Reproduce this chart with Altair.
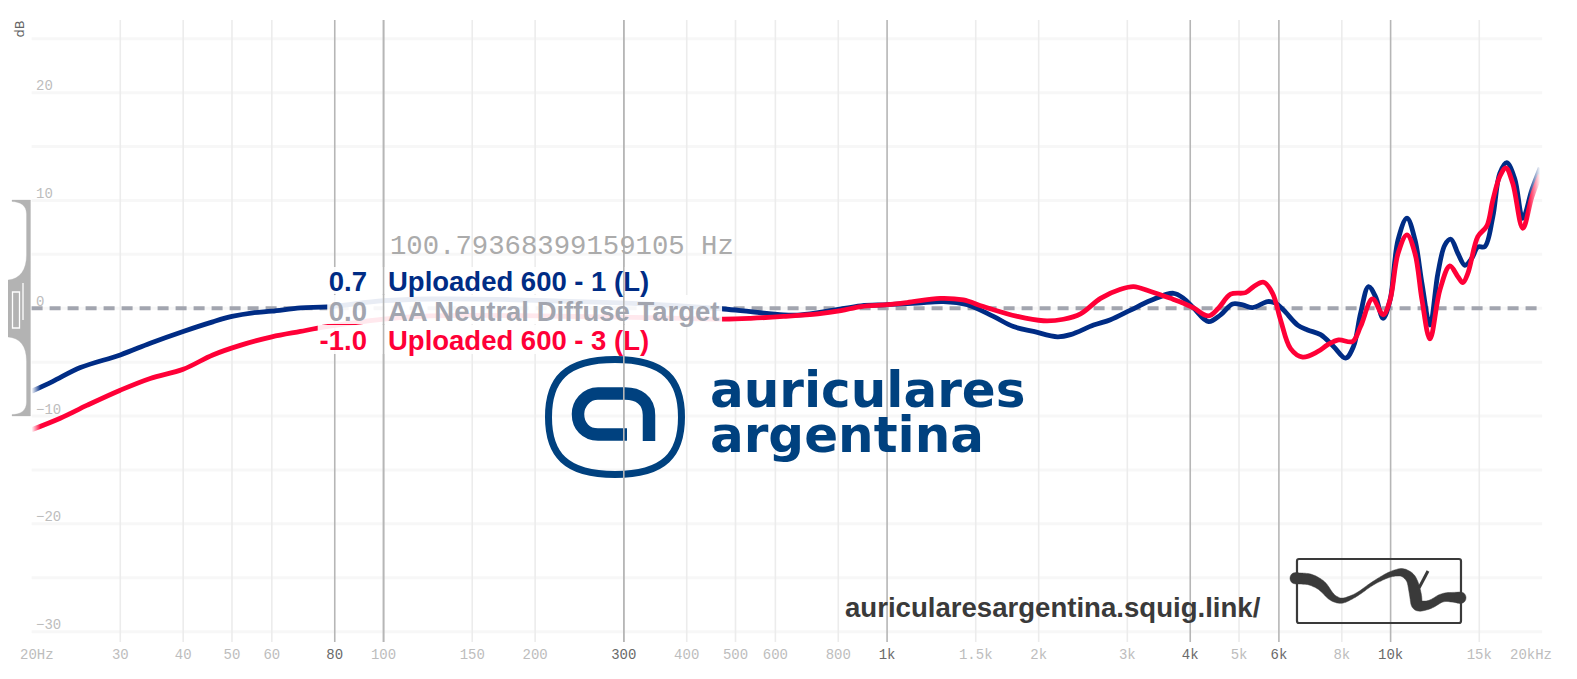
import re
import numpy as np
import pandas as pd
import altair as alt

# ---- readings -------------------------------------------------------------
blue_hz = [20,22,25,30,34.4,40,45.8,50,55,60,68.4,77.3,100,123.5,170.5,224.5,295,389,474,
 536,623,674,784,888,1000,1148,1293,1443,1626,1782,1953,2180,2313,2571,2778,3045,3337,3706,3880,4062,4350,4596,4855,5084,5321,5698,5909,6130,6536,6840,7261,7702,8140,8440,8716,9040,9332,9662,9975,10345,10778,11180,11542,11970,12415,12820,13175,13605,14045,14500,14900,15385,15960,16475,17010,17640,18300,19080,19820]
blue_db = [-7.7,-6.8,-5.5,-4.33,-3.24,-2.15,-1.26,-.76,-.42,-.27,.03,.13,.7,.86,.82,.67,.49,.22,-.07,
 -.32,-.61,-.61,-.17,.23,.33,.48,.62,.33,-.76,-1.7,-2.15,-2.65,-2.45,-1.56,-1.06,-.17,.72,1.39,.92,.03,-1.24,-.61,.4,.31,.06,.62,.47,-.17,-1.56,-2.01,-2.45,-3.54,-4.63,-3.54,-.47,2.01,1.08,-.93,.77,6.34,8.35,6.34,2.31,-1.56,3.25,5.88,6.4,5.08,3.99,4.64,5.68,5.72,8.5,12.51,13.5,12.02,8.35,10.98,13.01]
red_hz = [20,22.8,25.8,30,34.4,40,45.8,51.9,60,68.4,74,84,100,123.5,155.6,204.8,269.5,355,474,
 536,623,729,810,888,1000,1096,1275,1417,1553,1815,2044,2240,2422,2654,2908,3087,3337,3657,3880,4062,4350,4554,4811,5153,5345,5595,5829,6046,6329,6687,7161,7493,7882,8401,8716,9203,9662,9975,10345,10778,11180,11542,11970,12530,13112,13605,13915,14240,14900,15530,15960,16475,16940,17480,18300,19080,19820]
red_db = [-11.27,-10.2,-8.99,-7.6,-6.51,-5.66,-4.33,-3.44,-2.65,-2.15,-1.85,-1.46,-1.0,-.71,-.66,-.71,-.8,-.9,-1.0,
 -.93,-.76,-.52,-.22,.16,.33,.53,.92,.77,.16,-.76,-1.16,-1.02,-.52,.92,1.76,2.01,1.56,.92,.47,.03,-.71,.03,1.3,1.45,2.01,2.41,1.39,-1.08,-3.74,-4.53,-4.03,-3.4,-2.94,-3.09,-1.7,.86,-.61,.77,5.08,6.81,5.08,.77,-2.84,1.71,3.92,2.93,2.38,3.25,6.64,7.64,10.04,12.22,13.01,11.59,7.42,10.33,12.36]

tick_hz = [30,40,50,60,80,100,150,200,300,400,500,600,800,1000,1500,2000,3000,4000,5000,6000,8000,10000,15000]
tick_txt = ["30","40","50","60","80","100","150","200","300","400","500","600","800","1k","1.5k","2k","3k","4k","5k","6k","8k","10k","15k"]
strong_hz = [80,100,300,1000,4000,6000,10000]
dark_txt = ["80","300","1k","4k","6k","10k"]
grid_db = [25,20,15,10,5,0,-5,-10,-15,-20,-25,-30]
db_ticks = [20,10,0,-10,-20,-30]
db_txt = ["20","10","0","−10","−20","−30"]

BLUE, RED, GREY, NAVY = "#002c85", "#ff0037", "#a2a5af", "#00417f"

mask_lo = [75.4, 77.3, 74.0]
mask_hi = [341.4, 470.2, 341.4]
mask_top = [3.83, 1.23, -1.55]
mask_bot = [1.33, -1.46, -4.24]

# ---- page geometry ----------------------------------------------------------
X0, Y0 = 31.6, 20.0
W, H = 1510.6, 622

X = alt.X("f:Q", scale=alt.Scale(type="log", domain=[20, 20000]), axis=None)
Y = alt.Y("d:Q", scale=alt.Scale(domain=[-30.96, 26.74]), axis=None)


def text(s, px, py, **kw):
    kw.setdefault("baseline", "middle")
    return alt.Chart(pd.DataFrame({"t": [s]})).mark_text(**kw).encode(
        text="t:N", x=alt.value(px - X0), y=alt.value(py - Y0))


def unit(path, cx, cy, side):
    out, i = [], 0
    for tok in re.findall(r"[A-Za-z]|-?\d+\.?\d*", path):
        if tok.isalpha():
            out.append(tok)
        else:
            c = cx if i % 2 == 0 else cy
            out.append(f"{(float(tok) - c) / (side / 2):.4f}")
            i += 1
    return " ".join(out)


def glyph(path, cx, cy, side, **kw):
    kw.setdefault("opacity", 1)
    return alt.Chart(pd.DataFrame({"t": [0]})).mark_point(
        shape=unit(path, cx, cy, side), size=side ** 2, **kw
    ).encode(x=alt.value(cx - X0), y=alt.value(cy - Y0))


def ribbon(pts):
    p = np.array(pts, float)
    u = np.linspace(0, len(p) - 1, 160)
    idx = np.arange(len(p))
    xs, ys, ws = (np.interp(u, idx, p[:, k]) for k in range(3))
    ker = np.ones(9) / 9
    pad = lambda a: np.convolve(np.r_[[a[0]] * 4, a, [a[-1]] * 4], ker, "valid")
    xs, ys, ws = pad(xs), pad(ys), pad(ws)
    dx, dy = np.gradient(xs), np.gradient(ys)
    n = np.hypot(dx, dy) + 1e-6
    nx, ny = -dy / n, dx / n
    a = [f"{x:.1f} {y:.1f}" for x, y in zip(xs + nx * ws / 2, ys + ny * ws / 2)]
    b = [f"{x:.1f} {y:.1f}" for x, y in zip(xs - nx * ws / 2, ys - ny * ws / 2)]
    return "M" + " L".join(a + b[::-1]) + " Z"


# ---- grids ----------------------------------------------------------------
minor_hz = [v for v in tick_hz if v not in strong_hz]
hgrid = alt.Chart(pd.DataFrame({"d": grid_db, "f": [20] * len(grid_db), "f2": [20000] * len(grid_db)})).mark_rule(
    color="#f7f7f7", strokeWidth=3).encode(x=X, x2="f2:Q", y=Y)
vminor = alt.Chart(pd.DataFrame({"f": minor_hz})).mark_rule(color="#ececec", strokeWidth=1.6).encode(x=X)
vmajor = alt.Chart(pd.DataFrame({"f": strong_hz})).mark_rule(color="#b6b6b6", strokeWidth=1.6).encode(x=X)
vover = alt.Chart(pd.DataFrame({"f": [100, 300]})).mark_rule(color="#b6b6b6", strokeWidth=1.6).encode(x=X)

# ---- logo & decorations ----------------------------------------------------
logo_outer = glyph("M615 359.5 C665 359.5 681.5 380 681.5 417 C681.5 454 665 474.5 615 474.5 "
                   "C565 474.5 548.5 454 548.5 417 C548.5 380 565 359.5 615 359.5 Z",
                   615, 417, 140, filled=False, stroke=NAVY, strokeWidth=7)
logo_inner = glyph("M649 441 L649 415 C649 400 638 393.5 625 393.5 L598 393.5 C586 393.5 578 404 578 414 "
                   "C578 426 586 434.5 598 434.5 L627 434.5",
                   615, 417, 140, filled=False, stroke=NAVY, strokeWidth=12.5, strokeCap="butt")
logo_t1 = text("auriculares", 710, 407, baseline="alphabetic", align="left", font="DejaVu Sans",
               fontWeight="bold", fontSize=50, color=NAVY)
logo_t2 = text("argentina", 710, 452, baseline="alphabetic", align="left", font="DejaVu Sans",
               fontWeight="bold", fontSize=50, color=NAVY)

INK = "#3a3a3a"
squig_box = glyph("M1299 559 L1459 559 C1460 559 1461 560 1461 561 L1461 621 C1461 622 1460 623 1459 623 "
                  "L1299 623 C1298 623 1297 622 1297 621 L1297 561 C1297 560 1298 559 1299 559 Z",
                  1379, 591, 170, filled=False, stroke=INK, strokeWidth=2.2)
squig_body = glyph(ribbon([(1296, 578.3, 11), (1310, 579, 11), (1321.7, 585, 10), (1331.7, 597.7, 7),
                           (1341.7, 601.7, 5), (1356.7, 595, 3), (1373, 583, 3), (1390, 574, 5),
                           (1402.7, 571.7, 8), (1411.7, 578.3, 10), (1415.7, 595, 12), (1416.7, 606.7, 11),
                           (1430, 605, 8), (1443, 596.7, 8), (1460, 597.7, 11)]),
                   1379, 591, 170, filled=True, fill=INK, stroke=INK, strokeWidth=0.5)
squig_tick = glyph("M1428 571 L1419 588", 1379, 591, 170, filled=False, stroke=INK, strokeWidth=3)
squig_a = glyph("M1296 572.5 C1288 572.5 1288 584 1296 584 C1304 584 1304 572.5 1296 572.5 Z",
                1379, 591, 170, filled=True, fill=INK, stroke=INK, strokeWidth=0.5)
squig_b = glyph("M1460 592 C1468 592 1468 603.5 1460 603.5 C1452 603.5 1452 592 1460 592 Z",
                1379, 591, 170, filled=True, fill=INK, stroke=INK, strokeWidth=0.5)

brace = glyph("M12 200 L30.5 200 L30.5 416 L12 416 L12 414.5 C20 414.5 26.5 411 26.5 402 L26.5 361 "
              "C26.5 346 20 338 8 337 L8 280 C20 279 26.5 270 26.5 255 L26.5 214 C26.5 205 20 202 12 201.5 Z",
              20, 308, 220, filled=True, fill="#b3b3b3", stroke="#b3b3b3", strokeWidth=0.3)
slits = glyph("M12.5 292 L19.5 292 L19.5 328 L12.5 328 Z", 20, 308, 220, filled=False, stroke="#ffffff", strokeWidth=1.3)
slit2 = glyph("M23 283 L23 320", 20, 308, 220, filled=False, stroke="#ffffff", strokeWidth=1.3)

# ---- curves ---------------------------------------------------------------
def fade(col, b):
    return alt.LinearGradient(gradient="linear", x1=0, x2=1, y1=0, y2=0, stops=[
        alt.GradientStop(offset=0, color="#ffffff"),
        alt.GradientStop(offset=0.006, color=col),
        alt.GradientStop(offset=b, color=col),
        alt.GradientStop(offset=1, color="#ffffff"),
    ])


target = alt.Chart(pd.DataFrame({"d": [0], "f": [20], "f2": [20000]})).mark_rule(
    color=GREY, strokeWidth=4, strokeDash=[11, 7]).encode(x=X, x2="f2:Q", y=Y)
blue = alt.Chart(pd.DataFrame({"f": blue_hz, "d": blue_db})).mark_line(
    color=fade(BLUE, 0.992), strokeWidth=4.8, interpolate="catmull-rom", clip=False).encode(x=X, y=Y, order="f:Q")
red = alt.Chart(pd.DataFrame({"f": red_hz, "d": red_db})).mark_line(
    color=fade(RED, 0.992), strokeWidth=4.8, interpolate="catmull-rom", clip=False).encode(x=X, y=Y, order="f:Q")

masks = alt.Chart(pd.DataFrame({"f": mask_lo, "f2": mask_hi, "d": mask_top, "d2": mask_bot})).mark_rect(
    color="#ffffff", opacity=0.91).encode(x=X, x2="f2:Q", y=Y, y2="d2:Q")

# ---- axis texts -------------------------------------------------------------
tk = pd.DataFrame({"f": tick_hz, "t": tick_txt,
                   "c": ["#6a6a6a" if t in dark_txt else "#bdbdbd" for t in tick_txt]})
tick_labels = alt.Chart(tk).mark_text(font="Liberation Mono", fontSize=14).encode(
    x=X, y=alt.value(655 - Y0), text="t:N", color=alt.Color("c:N", scale=None))
t20 = text("20Hz", 20, 655, align="left", font="Liberation Mono", fontSize=14, color="#bdbdbd")
t20k = text("20kHz", 1552, 655, align="right", font="Liberation Mono", fontSize=14, color="#bdbdbd")
yl = alt.Chart(pd.DataFrame({"d": db_ticks, "t": db_txt})).mark_text(
    font="Liberation Mono", fontSize=14, align="left", dy=-6.5, color="#bdbdbd").encode(
    x=alt.value(36 - X0), y=Y, text="t:N")
db = text("dB", 20.5, 29, angle=270, font="DejaVu Sans", fontSize=13, color="#666666", align="center")

hz_text = text("100.79368399159105 Hz", 390, 245.5, align="left", font="Liberation Mono", fontSize=27.3, color="#ababab")
SANS = dict(font="Liberation Sans", fontWeight="bold", fontSize=27.5)
labels = [
    text("0.7", 367, 282.5, align="right", color=BLUE, **SANS),
    text("0.0", 367, 312.5, align="right", color=GREY, **SANS),
    text("-1.0", 367, 342.5, align="right", color=RED, **SANS),
    text("Uploaded 600 - 1 (L)", 388, 282.5, align="left", color=BLUE, **SANS),
    text("AA Neutral Diffuse Target", 388, 312.5, align="left", color=GREY, **SANS),
    text("Uploaded 600 - 3 (L)", 388, 342.5, align="left", color=RED, **SANS),
]
url = text("auricularesargentina.squig.link/", 845, 609.5, align="left", font="Liberation Sans",
           fontWeight="bold", fontSize=27.6, color=INK)

chart = alt.layer(
    hgrid, vminor, vmajor, logo_outer, logo_inner, logo_t1, logo_t2,
    squig_box, squig_body, squig_tick, squig_a, squig_b, url,
    target, blue, red, masks, vover, brace, slits, slit2,
    tick_labels, t20, t20k, yl, db, hz_text, *labels,
).properties(
    width=W, height=H,
    autosize=alt.AutoSizeParams(type="none"),
    padding={"left": X0 - 8, "top": Y0 - 8, "right": 20, "bottom": 20},
).configure_view(stroke=None)

chart.save("out.html", embed_options={"renderer": "svg", "actions": False})
